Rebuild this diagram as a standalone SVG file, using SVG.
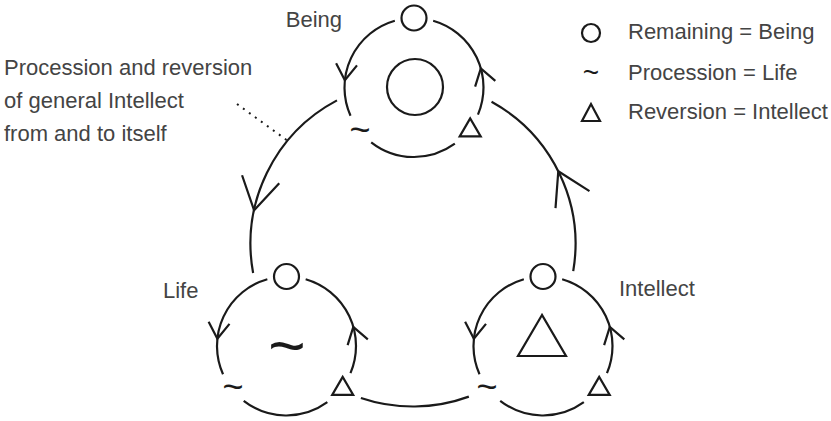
<svg xmlns="http://www.w3.org/2000/svg" xmlns:xlink="http://www.w3.org/1999/xlink" width="831" height="421" viewBox="0 0 831 421">
<style>
.ln{fill:none;stroke:#1a1a1a;stroke-width:2.2}
.dot{fill:none;stroke:#1a1a1a;stroke-width:2;stroke-dasharray:2 5.4}
.lbl{font-family:"Liberation Sans",Arial,sans-serif;font-size:22px;fill:#444}
.sym{font-family:"Liberation Sans",Arial,sans-serif;fill:#1a1a1a;text-anchor:middle}
</style>
<defs>
<path id="ring" class="ln" d="M19.16,-66.81 A69.5,69.5 0 0 1 63.97,27.15 M40.85,56.23 A69.5,69.5 0 0 1 -42.79,54.77 M-63.49,28.27 A69.5,69.5 0 0 1 -19.16,-66.81"/>
<path id="sa" class="ln" d="M-16,-10.5 L0,0 L-16,10.5"/>
<path id="ba" class="ln" d="M-31.7,-19 L0,0 L-31.7,19"/>
<g id="cyc">
<use href="#ring"/>
<circle class="ln" cx="0" cy="-69.5" r="12.5"/>
<polygon class="ln" points="56.2,30.9 45.7,48.9 66.7,48.9"/>
<use href="#sa" transform="translate(-69.12,-7.26) rotate(96)"/>
<use href="#sa" transform="translate(66.81,-19.16) rotate(-106)"/>
</g>
</defs>
<g id="connectors">
<path class="ln" d="M253.12,273.06 A162.5,162.5 0 0 1 336.97,100.38"/>
<path class="ln" d="M491.54,101.73 A162.5,162.5 0 0 1 573.23,271.1"/>
<path class="ln" d="M468.85,396.6 A162.5,162.5 0 0 1 360.9,397.92"/>
<use href="#ba" transform="translate(254.05,210.21) rotate(102)"/>
<use href="#ba" transform="translate(558.3,171.23) rotate(-116.6)"/>
<path class="dot" d="M237,104 L288,141"/>
</g>
<g id="being">
<use href="#cyc" transform="translate(414,87.5)"/>
<circle class="ln" cx="415" cy="87" r="28"/>
<text class="sym" x="360" y="142" font-size="36">~</text>
<text class="lbl" x="342" y="27" text-anchor="end">Being</text>
</g>
<g id="life">
<use href="#cyc" transform="translate(286.5,346)"/>
<text class="sym" x="287" y="368" font-size="64">~</text>
<text class="sym" x="233" y="399" font-size="36">~</text>
<text class="lbl" x="163" y="298">Life</text>
</g>
<g id="intellect">
<use href="#cyc" transform="translate(543,346)"/>
<polygon class="ln" points="542,315 518,356 566,356"/>
<text class="sym" x="487" y="399" font-size="36">~</text>
<text class="lbl" x="619" y="296">Intellect</text>
</g>
<g id="note">
<text class="lbl" x="4" y="75">Procession and reversion</text>
<text class="lbl" x="4" y="108">of general Intellect</text>
<text class="lbl" x="4" y="141">from and to itself</text>
</g>
<g id="legend">
<circle class="ln" cx="591" cy="33" r="9"/>
<text class="sym" x="591" y="82" font-size="28">~</text>
<polygon class="ln" points="591,104 582,121 600,121"/>
<text class="lbl" x="628" y="39">Remaining = Being</text>
<text class="lbl" x="628" y="80">Procession = Life</text>
<text class="lbl" x="628" y="119">Reversion = Intellect</text>
</g>
</svg>
